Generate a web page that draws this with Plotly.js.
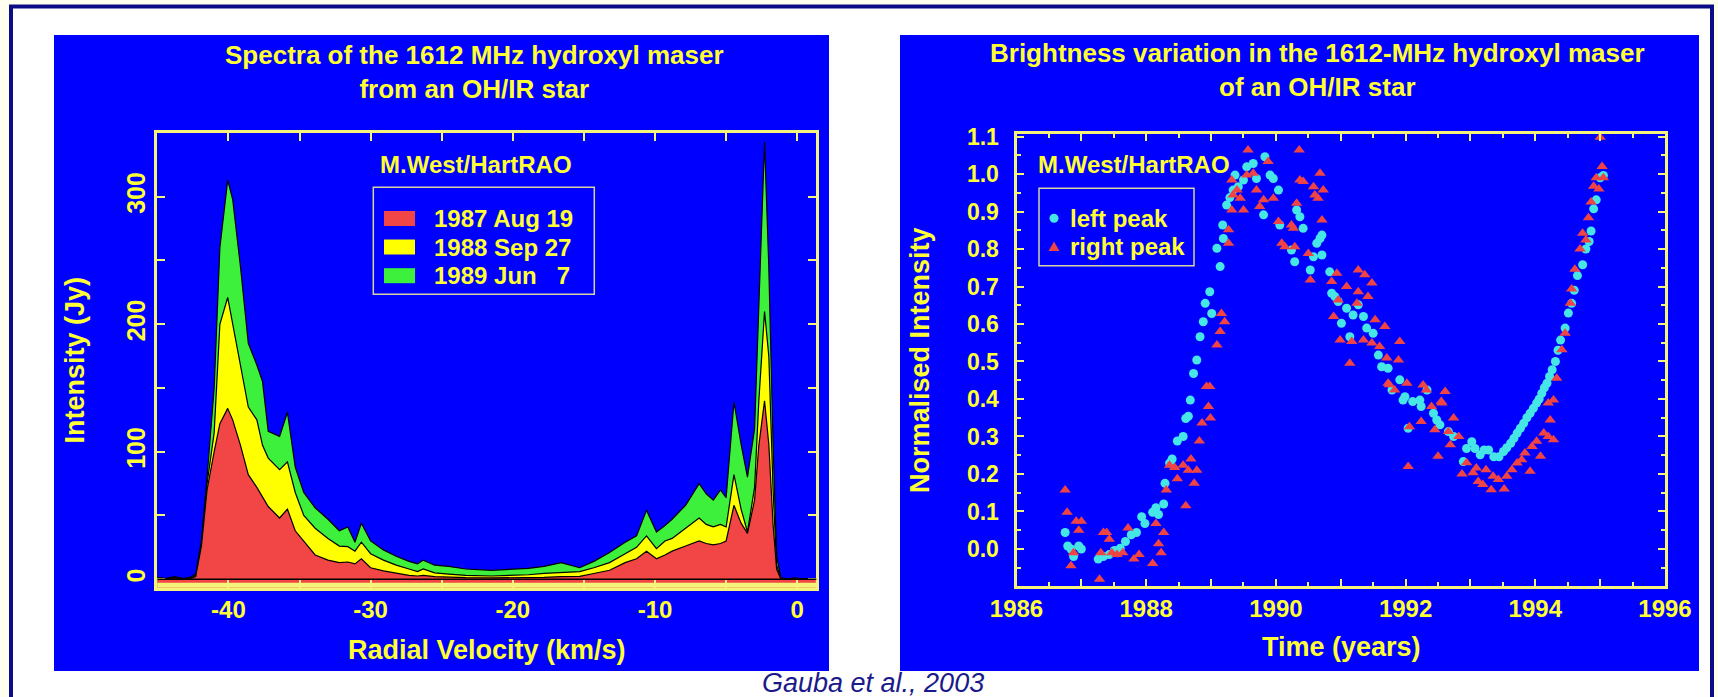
<!DOCTYPE html>
<html>
<head>
<meta charset="utf-8">
<script src="https://cdn.plot.ly/plotly-3.0.1.min.js"></script>
<style>
  html, body { margin: 0; padding: 0; background: #FFFFF0; }
  #chart { width: 1718px; height: 697px; }
</style>
</head>
<body>
<div id="chart"></div>
<script>
// ---- 1612 MHz OH maser spectra (radial velocity in km/s, intensity in Jy) ----
const velocity = [-45.0, -44.4, -43.8, -43.2, -42.7, -42.3, -41.9, -41.5, -41.0, -40.6,
  -40.05, -39.7, -39.15, -38.6, -38.0, -37.6, -37.2, -36.4, -35.85, -35.3,
  -34.7, -33.9, -33.0, -32.2, -31.6, -31.1, -30.65, -30.0, -29.1, -28.2,
  -27.3, -26.7, -26.3, -25.5, -24.5, -23.3, -21.5, -20.0, -18.9, -17.8,
  -16.6, -15.3, -14.3, -13.2, -12.1, -11.3, -10.6, -9.9, -9.3, -8.8,
  -7.85, -6.9, -6.4, -5.9, -5.4, -5.0, -4.45, -3.95, -3.5, -3.0,
  -2.7, -2.3, -2.0, -1.7, -1.45, -1.15, -0.7, -0.2, 0.4, 1.3];

const flux1989Jun7 = [1.5, 0.5, 2, 0.5, 1.5, 4, 30, 80, 150, 260,
  313, 298, 245, 185, 168, 155, 116, 112, 131, 88,
  68, 56, 47, 38, 41, 29, 44, 30, 23, 18,
  14, 12, 15, 11, 10, 8, 7, 8, 8.5, 10,
  13, 9, 14, 21, 29, 34, 54, 37, 42, 47,
  58, 75, 67, 62, 70, 64, 139, 106, 80, 118,
  210, 343, 245, 106, 18, 1, 0, 1, 0, 0.5];

const flux1988Sep27 = [1, 0.5, 1.5, 0.5, 1, 3, 28, 75, 115, 200,
  221, 200, 165, 135, 125, 105, 95, 86, 92, 68,
  50, 40, 32, 26, 25.5, 22, 29, 20, 15, 11,
  8, 6, 8, 5, 4, 3, 2.5, 3, 3.5, 4.5,
  5.5, 6, 9, 13, 20, 25, 34, 24, 30, 32,
  40, 48, 43, 41, 43, 41, 82, 55, 37, 72,
  140, 210, 175, 70, 11, 0.5, 0, 0.5, 0, 0];

const flux1987Aug19 = [0.5, 0, 1, 0, 0.5, 2, 26, 70, 100, 122,
  134, 125, 105, 82, 72, 65, 57, 48, 55, 38,
  30, 19, 15, 13, 13.5, 12, 16, 9, 6.5, 4.5,
  3, 2.5, 3, 2, 1.5, 1.2, 1, 1, 1.2, 1.5,
  2, 2.2, 4.5, 7, 13, 16, 22, 16, 19, 22,
  26, 30, 28, 27, 28, 30, 58, 44, 36, 62,
  105, 140, 106, 43, 8, 0, 0, 0, 0, 0];

const spectrumNames = ['1987 Aug 19', '1988 Sep 27', '1989 Jun\u2007 7'];
const spectrumColors = ['#F24646', '#FFFF00', '#3CF03C'];
const velocityTicks = [-40, -30, -20, -10, 0];
const velocityTickLabels = ['-40', '-30', '-20', '-10', '0'];

// ---- normalised peak brightness versus time ----
const leftPeakYear = [1986.75, 1986.79, 1986.84, 1986.88, 1986.96, 1987.00, 1987.26, 1987.34, 1987.43, 1987.51,
  1987.56, 1987.60, 1987.68, 1987.77, 1987.85, 1987.93, 1987.98, 1988.10, 1988.15, 1988.19,
  1988.27, 1988.29, 1988.36, 1988.40, 1988.48, 1988.57, 1988.61, 1988.65, 1988.68, 1988.73,
  1988.78, 1988.83, 1988.88, 1988.91, 1988.98, 1989.01, 1989.09, 1989.14, 1989.18, 1989.19,
  1989.24, 1989.29, 1989.34, 1989.37, 1989.42, 1989.50, 1989.55, 1989.65, 1989.70, 1989.81,
  1989.83, 1989.91, 1989.96, 1990.04, 1990.06, 1990.24, 1990.29, 1990.32, 1990.37, 1990.42,
  1990.53, 1990.58, 1990.63, 1990.68, 1990.71, 1990.71, 1990.83, 1990.86, 1990.91, 1990.96,
  1991.01, 1991.09, 1991.14, 1991.19, 1991.27, 1991.35, 1991.40, 1991.50, 1991.58, 1991.63,
  1991.73, 1991.79, 1991.91, 1991.96, 1991.99, 1992.04, 1992.11, 1992.22, 1992.24, 1992.33,
  1992.43, 1992.48, 1992.53, 1992.66, 1992.74, 1992.89, 1992.94, 1993.02, 1993.07, 1993.15,
  1993.21, 1993.28, 1993.36, 1993.44, 1993.51, 1993.56, 1993.62, 1993.67, 1993.72, 1993.77,
  1993.82, 1993.87, 1993.92, 1993.97, 1994.02, 1994.06, 1994.10, 1994.14, 1994.18, 1994.22,
  1994.26, 1994.31, 1994.35, 1994.39, 1994.46, 1994.51, 1994.56, 1994.60, 1994.65, 1994.73,
  1994.78, 1994.83, 1994.86, 1994.90, 1994.94, 1995.00, 1995.05];
const leftPeakIntensity = [0.044, 0.008, 0.0, -0.02, 0.008, 0.0, -0.027, -0.02, -0.015, -0.004,
  -0.01, 0.002, 0.02, 0.038, 0.044, 0.086, 0.068, 0.098, 0.11, 0.092,
  0.12, 0.175, 0.229, 0.24, 0.288, 0.30, 0.348, 0.354, 0.397, 0.468,
  0.504, 0.566, 0.606, 0.655, 0.686, 0.628, 0.802, 0.753, 0.864, 0.828,
  0.917, 0.937, 0.957, 0.997, 0.966, 0.984, 1.019, 1.028, 0.988, 0.891,
  1.046, 0.997, 0.988, 0.957, 0.864, 0.797, 0.766, 0.904, 0.886, 0.855,
  0.744, 0.779, 0.815, 0.828, 0.837, 0.784, 0.739, 0.682, 0.673, 0.66,
  0.602, 0.642, 0.566, 0.624, 0.651, 0.62, 0.589, 0.575, 0.517, 0.486,
  0.482, 0.424, 0.451, 0.397, 0.406, 0.322, 0.393, 0.397, 0.38, 0.424,
  0.362, 0.344, 0.331, 0.313, 0.30, 0.233, 0.268, 0.286, 0.268, 0.251,
  0.264, 0.264, 0.246, 0.246, 0.26, 0.27, 0.282, 0.295, 0.309, 0.322,
  0.335, 0.35, 0.362, 0.375, 0.389, 0.40, 0.415, 0.43, 0.442, 0.46,
  0.478, 0.50, 0.53, 0.557, 0.589, 0.629, 0.655, 0.69, 0.729, 0.758,
  0.80, 0.82, 0.848, 0.907, 0.931, 0.99, 0.996];

const rightPeakYear = [1986.75, 1986.78, 1986.84, 1986.88, 1986.92, 1986.96, 1987.00, 1987.28, 1987.30, 1987.34,
  1987.39, 1987.43, 1987.47, 1987.55, 1987.64, 1987.72, 1987.81, 1987.89, 1988.10, 1988.15,
  1988.19, 1988.23, 1988.27, 1988.31, 1988.36, 1988.44, 1988.48, 1988.57, 1988.61, 1988.65,
  1988.69, 1988.74, 1988.78, 1988.82, 1988.86, 1988.93, 1988.98, 1988.96, 1988.99, 1989.09,
  1989.14, 1989.16, 1989.21, 1989.27, 1989.27, 1989.32, 1989.32, 1989.34, 1989.40, 1989.45,
  1989.50, 1989.55, 1989.57, 1989.65, 1989.70, 1989.75, 1989.81, 1989.88, 1989.96, 1990.04,
  1990.09, 1990.14, 1990.24, 1990.27, 1990.29, 1990.32, 1990.36, 1990.37, 1990.42, 1990.50,
  1990.53, 1990.58, 1990.60, 1990.65, 1990.68, 1990.71, 1990.73, 1990.86, 1990.89, 1990.94,
  1990.96, 1990.99, 1991.09, 1991.14, 1991.17, 1991.25, 1991.27, 1991.27, 1991.35, 1991.37,
  1991.42, 1991.48, 1991.48, 1991.53, 1991.60, 1991.68, 1991.71, 1991.73, 1991.75, 1991.83,
  1991.89, 1991.91, 1992.02, 1992.04, 1992.06, 1992.24, 1992.27, 1992.32, 1992.40, 1992.45,
  1992.50, 1992.55, 1992.56, 1992.61, 1992.66, 1992.69, 1992.74, 1992.82, 1992.87, 1992.94,
  1993.04, 1993.09, 1993.12, 1993.19, 1993.24, 1993.32, 1993.35, 1993.43, 1993.52, 1993.56,
  1993.64, 1993.72, 1993.79, 1993.84, 1993.92, 1993.95, 1994.02, 1994.08, 1994.13, 1994.20,
  1994.20, 1994.23, 1994.28, 1994.28, 1994.33, 1994.41, 1994.46, 1994.54, 1994.56, 1994.61,
  1994.69, 1994.73, 1994.78, 1994.82, 1994.86, 1994.90, 1994.94, 1994.98, 1995.00, 1995.03,
  1995.05];
const rightPeakIntensity = [0.157, 0.098, -0.045, -0.01, 0.074, 0.05, 0.074, -0.081, -0.01, 0.044,
  0.044, 0.026, -0.01, -0.015, -0.01, 0.056, -0.027, -0.015, -0.039, 0.068,
  0.014, -0.01, 0.044, 0.157, 0.223, 0.217, 0.187, 0.223, 0.115, 0.21,
  0.24, 0.175, 0.21, 0.288, 0.336, 0.433, 0.433, 0.38, 0.349, 0.544,
  0.58, 0.628, 0.606, 0.815, 0.851, 0.904, 0.984, 0.944, 0.957, 0.935,
  0.904, 0.997, 1.064, 1.002, 0.957, 0.913, 0.931, 1.033, 0.935, 0.873,
  0.815, 0.806, 0.864, 0.855, 0.806, 0.922, 1.064, 0.984, 0.98, 0.788,
  0.717, 0.966, 0.944, 0.935, 1.002, 0.877, 0.957, 0.713, 0.62, 0.735,
  0.664, 0.557, 0.70, 0.495, 0.553, 0.655, 0.744, 0.686, 0.557, 0.731,
  0.673, 0.709, 0.549, 0.611, 0.54, 0.593, 0.509, 0.442, 0.438, 0.424,
  0.504, 0.553, 0.442, 0.22, 0.326, 0.34, 0.437, 0.424, 0.38, 0.318,
  0.247, 0.393, 0.389, 0.42, 0.313, 0.278, 0.349, 0.30, 0.20, 0.23,
  0.203, 0.216, 0.18, 0.172, 0.211, 0.158, 0.194, 0.185, 0.16, 0.194,
  0.211, 0.229, 0.238, 0.256, 0.207, 0.273, 0.287, 0.247, 0.309, 0.30,
  0.389, 0.344, 0.291, 0.397, 0.455, 0.531, 0.575, 0.655, 0.693, 0.746,
  0.80, 0.842, 0.824, 0.883, 0.925, 0.967, 0.99, 0.96, 1.098, 1.02,
  0.99];

const yearTicks = [1986, 1987, 1988, 1989, 1990, 1991, 1992, 1993, 1994, 1995, 1996];
const yearTickLabels = ['1986', '', '1988', '', '1990', '', '1992', '', '1994', '', '1996'];
const peakNames = ['left peak', 'right peak'];

// ---- page geometry helpers (pixels -> paper fractions, margins are zero) ----
const W = 1718, H = 697;
const fx = p => p / W;
const fy = p => 1 - p / H;

const YEL = '#FFFF33';
const FRAME = '#F4F47A';
const BLUE = '#0000FF';
const FONT = 'Liberation Sans, Arial, Helvetica, sans-serif';
const boldFont = (size, color) => ({ family: FONT, size: size, color: color || YEL, weight: 'bold' });

// spectra: each area is filled down to the bottom of the intensity axis
const yFloor = -6.9;
const floorLine = velocity.map(() => yFloor);
const spectra = [
  { y: flux1989Jun7, color: spectrumColors[2], name: spectrumNames[2] },
  { y: flux1988Sep27, color: spectrumColors[1], name: spectrumNames[1] },
  { y: flux1987Aug19, color: spectrumColors[0], name: spectrumNames[0] }
];
const traces = [];
spectra.forEach(s => {
  traces.push({ x: velocity, y: floorLine, mode: 'lines', line: { width: 0 },
    hoverinfo: 'skip', showlegend: false, xaxis: 'x', yaxis: 'y' });
  traces.push({ x: velocity, y: s.y, mode: 'lines', name: s.name, fill: 'tonexty',
    fillcolor: s.color, line: { color: '#000000', width: 1.2 },
    showlegend: false, xaxis: 'x', yaxis: 'y' });
});
traces.push({ x: leftPeakYear, y: leftPeakIntensity, mode: 'markers', name: peakNames[0],
  marker: { symbol: 'circle', size: 9, color: '#46E6E6' }, showlegend: false,
  xaxis: 'x2', yaxis: 'y2' });
traces.push({ x: rightPeakYear, y: rightPeakIntensity, mode: 'markers', name: peakNames[1],
  marker: { symbol: 'triangle-up', size: 10, color: '#F04444' }, showlegend: false,
  xaxis: 'x2', yaxis: 'y2' });

const axisCommon = {
  showgrid: false, zeroline: false, showline: true, linecolor: FRAME, linewidth: 3,
  mirror: 'allticks', ticks: 'inside', tickcolor: FRAME, tickwidth: 2,
  tickfont: boldFont(24), layer: 'above traces', fixedrange: true
};

const layout = {
  width: W, height: H,
  margin: { l: 0, r: 0, t: 0, b: 0, pad: 0 },
  paper_bgcolor: '#FFFFF0',
  plot_bgcolor: 'rgba(0,0,0,0)',
  showlegend: false,
  xaxis: Object.assign({}, axisCommon, {
    domain: [fx(157.3), fx(816.3)], range: [-45, 1.34], anchor: 'y',
    tickmode: 'array', tickvals: velocityTicks, ticktext: velocityTickLabels, ticklen: 8,
    ticklabelstandoff: -2,
    minor: { tickmode: 'linear', tick0: 0, dtick: 5, ticks: 'inside', ticklen: 8, tickwidth: 2, tickcolor: FRAME }
  }),
  yaxis: Object.assign({}, axisCommon, {
    domain: [fy(588), fy(133)], range: [yFloor, 350], anchor: 'x',
    tickmode: 'linear', tick0: 0, dtick: 100, tickangle: -90, ticklen: 8,
    ticklabelstandoff: -1, tickfont: boldFont(25),
    minor: { tickmode: 'linear', tick0: 0, dtick: 50, ticks: 'inside', ticklen: 8, tickwidth: 2, tickcolor: FRAME }
  }),
  xaxis2: Object.assign({}, axisCommon, {
    domain: [fx(1016.5), fx(1665)], range: [1986, 1996], anchor: 'y2',
    tickmode: 'array', tickvals: yearTicks, ticktext: yearTickLabels, ticklen: 7,
    ticklabelstandoff: -1,
    minor: { tickmode: 'linear', tick0: 1986, dtick: 0.5, ticks: 'inside', ticklen: 4, tickwidth: 2, tickcolor: FRAME }
  }),
  yaxis2: Object.assign({}, axisCommon, {
    domain: [fy(586.3), fy(133.5)], range: [-0.0995, 1.108], anchor: 'x2',
    tickmode: 'linear', tick0: 0, dtick: 0.1, tickformat: '.1f', ticklen: 7,
    ticklabelstandoff: 10, tickfont: boldFont(23),
    minor: { tickmode: 'linear', tick0: 0, dtick: 0.05, ticks: 'inside', ticklen: 4, tickwidth: 2, tickcolor: FRAME }
  }),
  shapes: [
    // page frame
    { type: 'rect', xref: 'paper', yref: 'paper', x0: fx(11), x1: fx(1712), y0: fy(6.5), y1: fy(760),
      fillcolor: '#FFFFFF', line: { color: '#0C0C86', width: 4 }, layer: 'below' },
    // blue panels
    { type: 'rect', xref: 'paper', yref: 'paper', x0: fx(54), x1: fx(829), y0: fy(35), y1: fy(671),
      fillcolor: BLUE, line: { width: 0 }, layer: 'below' },
    { type: 'rect', xref: 'paper', yref: 'paper', x0: fx(900), x1: fx(1699), y0: fy(35), y1: fy(671),
      fillcolor: BLUE, line: { width: 0 }, layer: 'below' },
    // zero-intensity reference line of the spectra
    { type: 'line', xref: 'x domain', yref: 'y', x0: 0, x1: 1, y0: 0, y1: 0,
      line: { color: '#000000', width: 1.5 }, layer: 'above' },
    // heavier baseline of the spectrum frame
    { type: 'line', xref: 'x domain', yref: 'y domain', x0: 0, x1: 1, y0: 0.006, y1: 0.006,
      line: { color: FRAME, width: 5 }, layer: 'above' },
    // legend boxes
    { type: 'rect', xref: 'paper', yref: 'paper', x0: fx(373.3), x1: fx(594.3), y0: fy(187.3), y1: fy(294.3),
      line: { color: '#D4D4A4', width: 1.5 }, layer: 'above' },
    { type: 'rect', xref: 'paper', yref: 'paper', x0: fx(1039), x1: fx(1194), y0: fy(188.3), y1: fy(265.7),
      line: { color: '#D4D4A4', width: 1.5 }, layer: 'above' }
  ],
  annotations: []
};

// legend swatches and labels for the spectra
const legendRowsY = [218.5, 247, 275.7];
spectrumNames.forEach((name, i) => {
  const cy = legendRowsY[i];
  layout.shapes.push({ type: 'rect', xref: 'paper', yref: 'paper',
    x0: fx(384), x1: fx(415), y0: fy(cy - 7.5), y1: fy(cy + 7.5),
    fillcolor: spectrumColors[i], line: { width: 0 }, layer: 'above' });
  layout.annotations.push({ text: name, xref: 'paper', yref: 'paper', x: fx(432), y: fy(cy),
    xanchor: 'left', yanchor: 'middle', showarrow: false, font: boldFont(24) });
});

// legend markers and labels for the peaks
layout.shapes.push({ type: 'circle', xref: 'paper', yref: 'paper',
  x0: fx(1049.5), x1: fx(1058.5), y0: fy(213.8), y1: fy(222.8),
  fillcolor: '#46E6E6', line: { width: 0 }, layer: 'above' });
layout.shapes.push({ type: 'path', xref: 'paper', yref: 'paper',
  path: 'M ' + fx(1054) + ' ' + fy(241.5) + ' L ' + fx(1059.5) + ' ' + fy(251) + ' L ' + fx(1048.5) + ' ' + fy(251) + ' Z',
  fillcolor: '#F04444', line: { width: 0 }, layer: 'above' });
[218.3, 246.7].forEach((cy, i) => {
  layout.annotations.push({ text: peakNames[i], xref: 'paper', yref: 'paper', x: fx(1068), y: fy(cy),
    xanchor: 'left', yanchor: 'middle', showarrow: false, font: boldFont(24) });
});

// titles, observatory credit, axis titles and caption
const textItems = [
  { text: 'Spectra of the 1612 MHz hydroxyl maser<br>from an OH/IR star', x: 475, y: 72.3, size: 26 },
  { text: 'Brightness variation in the 1612-MHz hydroxyl maser<br>of an OH/IR star', x: 1317, y: 70, size: 26 },
  { text: 'M.West/HartRAO', x: 476, y: 165, size: 24 },
  { text: 'M.West/HartRAO', x: 1134, y: 165, size: 24 },
  { text: 'Radial Velocity (km/s)', x: 487, y: 650, size: 27 },
  { text: 'Time (years)', x: 1341, y: 647, size: 27 },
  { text: 'Intensity (Jy)', x: 74.5, y: 360, size: 27, angle: -90 },
  { text: 'Normalised Intensity', x: 920, y: 360, size: 27, angle: -90 }
];
textItems.forEach(t => {
  layout.annotations.push({ text: t.text, xref: 'paper', yref: 'paper', x: fx(t.x), y: fy(t.y),
    xanchor: 'center', yanchor: 'middle', showarrow: false, textangle: t.angle || 0,
    font: boldFont(t.size) });
});
layout.annotations.push({ text: 'Gauba et al., 2003', xref: 'paper', yref: 'paper', x: fx(873), y: fy(683),
  xanchor: 'center', yanchor: 'middle', showarrow: false,
  font: { family: FONT, size: 27, color: '#1A1A8A', style: 'italic' } });

Plotly.newPlot('chart', traces, layout, { displayModeBar: false, staticPlot: true });
</script>
</body>
</html>
